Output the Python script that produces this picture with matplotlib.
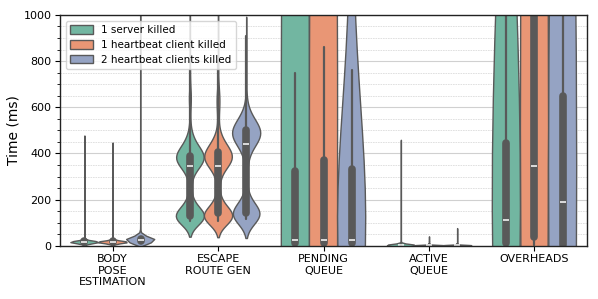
import numpy as np
import pandas as pd
import matplotlib
matplotlib.use("Agg")
import matplotlib.pyplot as plt
import seaborn as sns
from matplotlib.ticker import MultipleLocator

categories = ["BODY\nPOSE\nESTIMATION", "ESCAPE\nROUTE GEN", "PENDING\nQUEUE", "ACTIVE\nQUEUE", "OVERHEADS"]
scenarios = ["1 server killed", "1 heartbeat client killed", "2 heartbeat clients killed"]

# ---- BODY POSE ESTIMATION (value, count) ----
bp_srv_vals = [4, 8, 12, 15, 17, 19, 22, 26, 32, 45, 90, 180, 300, 470]
bp_srv_cnt = [20, 80, 180, 260, 300, 250, 150, 60, 20, 6, 2, 1, 1, 1]
bp_hb1_vals = [4, 8, 12, 15, 17, 19, 22, 26, 32, 45, 90, 170, 280, 440]
bp_hb1_cnt = [20, 80, 180, 260, 300, 250, 150, 60, 20, 6, 2, 1, 1, 1]
bp_hb2_vals = [5, 10, 15, 20, 24, 28, 33, 40, 50, 80, 200, 500, 900, 1400]
bp_hb2_cnt = [30, 100, 200, 280, 300, 260, 180, 80, 20, 5, 2, 1, 1, 1]

# ---- ESCAPE ROUTE GEN ----
er_srv_vals = [108, 115, 122, 130, 140, 155, 170, 190, 210, 230, 250, 270, 290, 310, 330, 345, 360, 375,
               390, 405, 420, 440, 460, 480, 500, 540, 580, 620, 640, 660, 700, 760, 850, 950]
er_srv_cnt = [60, 90, 100, 100, 80, 60, 40, 25, 15, 10, 10, 10, 15, 20, 30, 60, 100, 110,
              110, 90, 70, 50, 30, 20, 10, 6, 6, 10, 12, 10, 5, 2, 1, 1]
er_hb1_vals = [108, 115, 122, 130, 140, 155, 170, 190, 210, 230, 250, 270, 290, 310, 330, 345, 360, 375,
               390, 405, 420, 440, 460, 480, 500, 530, 560, 590, 620, 650, 680, 720, 800, 950]
er_hb1_cnt = [55, 85, 100, 100, 85, 65, 45, 25, 15, 10, 10, 10, 15, 20, 30, 55, 95, 105,
              105, 95, 80, 60, 35, 20, 10, 6, 8, 14, 20, 18, 10, 4, 2, 1]
er_hb2_vals = [116, 122, 128, 134, 142, 152, 165, 180, 200, 220, 250, 280, 310, 340, 380, 410, 440, 455,
               470, 485, 500, 515, 530, 550, 570, 600, 650, 700, 800, 910]
er_hb2_cnt = [40, 70, 90, 90, 80, 65, 50, 35, 25, 15, 10, 10, 12, 15, 25, 40, 60, 80,
              100, 100, 100, 90, 70, 50, 35, 20, 6, 4, 2, 1]

# ---- PENDING QUEUE ----
pq_srv_vals = [2, 5, 10, 18, 25, 50, 100, 160, 220, 280, 323, 420, 520, 620, 748, 1500, 3000, 6000, 12000, 25000, 45000, 80000]
pq_srv_cnt = [20, 20, 15, 20, 30, 5, 10, 10, 10, 10, 10, 6, 5, 3, 2, 4, 4, 4, 4, 4, 3, 3]
pq_hb1_vals = [2, 5, 10, 18, 25, 60, 120, 190, 260, 320, 371, 480, 600, 720, 861, 1500, 3000, 6000, 12000, 25000, 45000, 80000]
pq_hb1_cnt = [20, 20, 15, 20, 30, 5, 10, 10, 10, 10, 10, 6, 5, 3, 2, 4, 4, 4, 4, 4, 3, 3]
pq_hb2_vals = [2, 5, 10, 18, 27, 50, 100, 160, 220, 280, 332, 420, 520, 640, 761, 900, 1200, 1600, 2200, 3000, 4000, 6000, 10000]
pq_hb2_cnt = [20, 20, 15, 20, 30, 5, 10, 10, 10, 10, 10, 6, 5, 3, 2, 4, 4, 4, 4, 4, 4, 3, 2]

# ---- ACTIVE QUEUE ----
aq_srv_vals = [0.5, 1, 2, 3, 4, 5, 7, 10, 20, 60, 150, 300, 450]
aq_srv_cnt = [50, 150, 250, 250, 150, 80, 30, 10, 4, 2, 1, 1, 1]
aq_hb1_vals = [0.5, 1, 2, 3, 4, 5, 7, 10, 20, 40]
aq_hb1_cnt = [50, 150, 250, 250, 150, 80, 30, 10, 3, 1]
aq_hb2_vals = [0.5, 1, 2, 3, 4, 5, 7, 10, 20, 45, 75]
aq_hb2_cnt = [50, 150, 250, 250, 150, 80, 30, 10, 3, 1, 1]

# ---- OVERHEADS ----
oh_srv_vals = [2, 5, 10, 20, 40, 70, 100, 111, 150, 200, 260, 320, 380, 445, 520, 600, 700, 800, 900, 1000, 1090, 3000, 6000, 12000, 20000]
oh_srv_cnt = [15, 20, 15, 10, 10, 10, 15, 5, 10, 10, 10, 10, 5, 5, 6, 6, 5, 5, 4, 4, 3, 4, 4, 3, 3]
oh_hb1_vals = [5, 20, 37, 80, 150, 250, 345, 500, 700, 900, 1100, 1300, 1700, 2200, 2800, 3500, 6000, 12000, 25000, 45000]
oh_hb1_cnt = [10, 20, 25, 12, 12, 10, 20, 15, 15, 12, 10, 10, 8, 8, 5, 4, 4, 4, 4, 3]
oh_hb2_vals = [1, 3, 5, 20, 60, 120, 189, 260, 350, 450, 560, 649, 800, 1000, 1200, 1500, 3000, 8000, 20000, 40000]
oh_hb2_cnt = [15, 20, 15, 10, 10, 15, 15, 10, 10, 10, 10, 10, 8, 7, 5, 5, 4, 4, 4, 3]

groups = [
    (0, 0, bp_srv_vals, bp_srv_cnt), (0, 1, bp_hb1_vals, bp_hb1_cnt), (0, 2, bp_hb2_vals, bp_hb2_cnt),
    (1, 0, er_srv_vals, er_srv_cnt), (1, 1, er_hb1_vals, er_hb1_cnt), (1, 2, er_hb2_vals, er_hb2_cnt),
    (2, 0, pq_srv_vals, pq_srv_cnt), (2, 1, pq_hb1_vals, pq_hb1_cnt), (2, 2, pq_hb2_vals, pq_hb2_cnt),
    (3, 0, aq_srv_vals, aq_srv_cnt), (3, 1, aq_hb1_vals, aq_hb1_cnt), (3, 2, aq_hb2_vals, aq_hb2_cnt),
    (4, 0, oh_srv_vals, oh_srv_cnt), (4, 1, oh_hb1_vals, oh_hb1_cnt), (4, 2, oh_hb2_vals, oh_hb2_cnt),
]

frames = []
for ci, si, vals, cnt in groups:
    v = np.repeat(np.asarray(vals, dtype=float), cnt)
    frames.append(pd.DataFrame({"stage": categories[ci], "scenario": scenarios[si], "time": v}))
df = pd.concat(frames, ignore_index=True)

sns.set_style("ticks")
plt.rcParams["font.family"] = ["DejaVu Sans"]
plt.rcParams["text.color"] = "black"
plt.rcParams["axes.labelcolor"] = "black"
plt.rcParams["xtick.color"] = "black"
plt.rcParams["ytick.color"] = "black"

fig = plt.figure(figsize=(5.98, 2.99), dpi=100)
ax = fig.add_axes([0.1, 0.178, 0.882, 0.772])

sns.violinplot(data=df, x="stage", y="time", hue="scenario", order=categories, hue_order=scenarios,
               palette="Set2", density_norm="width", inner="box", ax=ax, linewidth=1.0,
               inner_kws={"box_width": 5.5, "whis_width": 1.6})

ax.set_ylim(0, 1000)
ax.yaxis.set_major_locator(MultipleLocator(200))
ax.yaxis.set_minor_locator(MultipleLocator(50))
ax.grid(which="major", axis="y", color="#d0d0d0", linewidth=0.8)
ax.grid(which="minor", axis="y", color="#dcdcdc", linewidth=0.6, linestyle=(0, (2, 1)))
ax.set_axisbelow(True)
ax.set_xlabel("")
ax.set_ylabel("Time (ms)", fontsize=10, labelpad=2)
ax.tick_params(axis="both", which="major", labelsize=8, length=3.5, width=0.8, colors="black", pad=2.5)
ax.tick_params(axis="y", which="minor", length=2, width=0.6)
for s in ax.spines.values():
    s.set_visible(True)
    s.set_color("#222222")
    s.set_linewidth(1.0)

leg = ax.legend(loc="upper left", fontsize=7.5, framealpha=0.8, handlelength=2.2,
                handleheight=0.9, borderaxespad=0.6, labelspacing=0.45)
fig.savefig("out.png", dpi=100)
